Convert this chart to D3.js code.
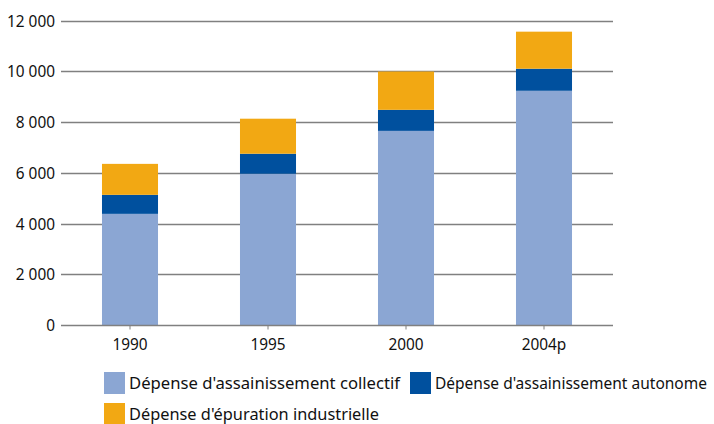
<!DOCTYPE html>
<html>
<head>
<meta charset="utf-8">
<script src="https://cdn.jsdelivr.net/npm/d3@7"></script>
<style>
  html, body { margin: 0; padding: 0; background: #fff; }
  svg text { font-family: "Noto Sans", "Open Sans", sans-serif; fill: #111; }
</style>
</head>
<body>
<svg id="chart" width="714" height="424"></svg>
<script>
// Dépenses d'assainissement, en millions d'euros
const years = ["1990", "1995", "2000", "2004p"];
const collectif = [4380, 5960, 7650, 9230];
const autonome = [750, 790, 830, 870];
const industrielle = [1220, 1380, 1510, 1460];
const seriesNames = [
  "Dépense d'assainissement collectif",
  "Dépense d'assainissement autonome",
  "Dépense d'épuration industrielle"
];
const yTicks = [0, 2000, 4000, 6000, 8000, 10000, 12000];
const colors = ["#8ba6d3", "#00509e", "#f2a813"];

const rows = years.map((yr, i) => ({
  year: yr, c: collectif[i], a: autonome[i], e: industrielle[i]
}));
const keys = ["c", "a", "e"];

const svg = d3.select("#chart");
const plotLeft = 61, plotRight = 613, plotTop = 20.5, plotBottom = 325;
const tickFont = "15.4px";
const legendFont = "15.7px";

const x = d3.scaleBand().domain(years).range([plotLeft, plotRight])
  .paddingInner(0.594).paddingOuter(0.297);
const y = d3.scaleLinear().domain([0, 12000]).range([plotBottom, plotTop]);

const fmt = v => d3.format(",")(v).replace(/,/g, " ");

// horizontal grid lines
svg.append("g")
  .selectAll("line")
  .data(yTicks.filter(t => t > 0))
  .join("line")
  .attr("x1", plotLeft).attr("x2", plotRight)
  .attr("y1", d => Math.round(y(d)) + 0.5)
  .attr("y2", d => Math.round(y(d)) + 0.5)
  .attr("stroke", "#808080")
  .attr("stroke-width", 1.4);

// y axis labels
const yAxis = d3.axisLeft(y).tickValues(yTicks).tickFormat(fmt).tickSize(0).tickPadding(6);
const gy = svg.append("g").attr("transform", `translate(${plotLeft},0)`).call(yAxis);
gy.select(".domain").remove();
gy.selectAll("text").style("font-size", tickFont).attr("dy", "0.36em");

// stacked bars
const stack = d3.stack().keys(keys)(rows);
svg.append("g")
  .selectAll("g")
  .data(stack)
  .join("g")
  .attr("fill", (d, i) => colors[i])
  .selectAll("rect")
  .data(d => d)
  .join("rect")
  .attr("x", d => x(d.data.year))
  .attr("width", x.bandwidth())
  .attr("y", d => y(d[1]))
  .attr("height", d => y(d[0]) - y(d[1]));

// x axis
const xAxis = d3.axisBottom(x).tickSize(4).tickPadding(10).tickSizeOuter(0);
const gx = svg.append("g").attr("transform", `translate(0,${Math.round(plotBottom) + 0.5})`).call(xAxis);
gx.select(".domain").attr("stroke", "#808080").attr("stroke-width", 1.4)
  .attr("d", `M${plotLeft},0H${plotRight}`);
gx.selectAll(".tick line").attr("stroke", "#808080");
gx.selectAll("text").style("font-size", tickFont);

// legend: swatch + label, each label fitted to its slot width
const legendItems = [
  { name: seriesNames[0], color: colors[0], x: 104, y: 372, w: 271 },
  { name: seriesNames[1], color: colors[1], x: 410, y: 372, w: 272 },
  { name: seriesNames[2], color: colors[2], x: 104, y: 403, w: 250 }
];
const lg = svg.append("g");
legendItems.forEach(it => {
  lg.append("rect").attr("x", it.x).attr("y", it.y).attr("width", 21).attr("height", 22)
    .attr("fill", it.color);
  lg.append("text").attr("x", it.x + 25).attr("y", it.y + 16.5)
    .attr("textLength", it.w).attr("lengthAdjust", "spacingAndGlyphs")
    .style("font-size", legendFont).text(it.name);
});
</script>
</body>
</html>
